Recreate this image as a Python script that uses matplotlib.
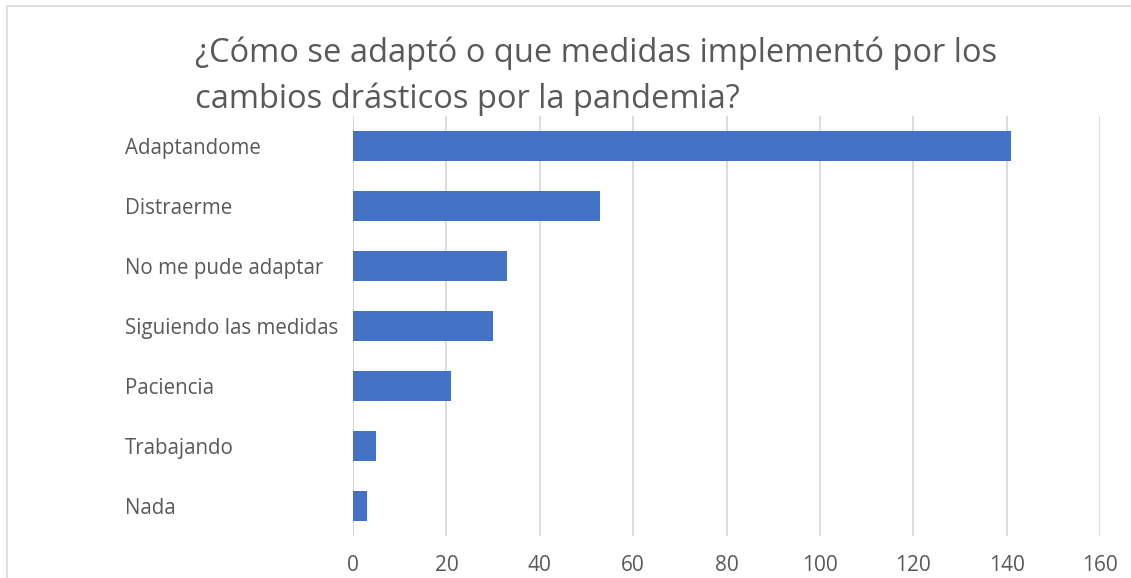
import matplotlib.pyplot as plt
from matplotlib.patches import Rectangle

categorias = ["Adaptandome", "Distraerme", "No me pude adaptar", "Siguiendo las medidas",
              "Paciencia", "Trabajando", "Nada"]
respuestas = [141, 53, 33, 30, 21, 5, 3]
ticks_x = [0, 20, 40, 60, 80, 100, 120, 140, 160]
titulo = ["¿Cómo se adaptó o que medidas implementó por los",
          "cambios drásticos por la pandemia?"]

gris = "#595959"
plt.rcParams["font.family"] = ["Open Sans", "DejaVu Sans"]

fig = plt.figure(figsize=(11.31, 5.78), dpi=100)
ax = fig.add_axes([353 / 1131, 1 - 536 / 578, 747 / 1131, 420 / 578])

pos = list(range(len(categorias)))
ax.barh(pos, respuestas, height=0.5, color="#4472C4", zorder=3)
ax.set_ylim(len(categorias) - 0.5, -0.5)
ax.set_xlim(0, 160)
ax.set_xticks(ticks_x)
ax.set_yticks(pos)
ax.set_yticklabels(categorias, fontsize=14.8, color=gris, ha="left")
ax.tick_params(axis="y", length=0, pad=164)
ax.tick_params(axis="x", length=0, labelsize=15, labelcolor=gris, pad=14)
ax.grid(axis="x", color="#D9D9D9", linewidth=1.3, zorder=0)
for s in ax.spines.values():
    s.set_visible(False)

# titulo en dos lineas
for i, linea in enumerate(titulo):
    fig.text(195 / 1131, 1 - (62 + 46 * i) / 578, linea,
             fontsize=23.5, color=gris, ha="left", va="baseline")

# borde del area del grafico
fig.add_artist(Rectangle((7 / 1131, -0.1), 1.2, 1 - 6 / 578 + 0.1, transform=fig.transFigure,
                         fill=False, edgecolor="#D9D9D9", linewidth=1.2))

fig.savefig("out.png", dpi=100)
